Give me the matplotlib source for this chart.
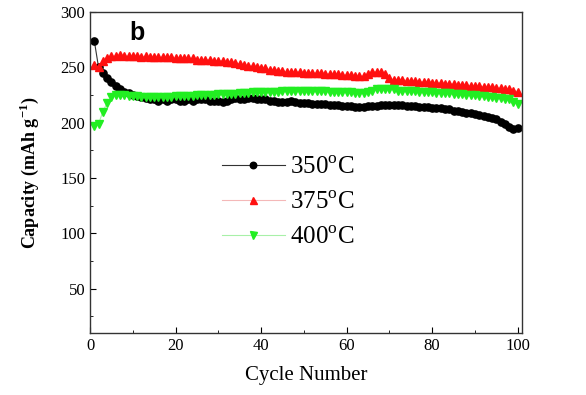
import matplotlib.pyplot as plt
from matplotlib.ticker import MultipleLocator

# Data
cycles = list(range(1, 101))

cap_350 = [274, 250, 245, 240, 237, 233, 230, 228, 227, 225,
           224, 223, 222, 221, 221, 220, 221, 220, 221, 221,
           220, 220, 221, 220, 221, 221, 221, 220, 220, 220,
           219, 220, 221, 222, 221, 221, 222, 222, 221, 221,
           221, 220, 220, 219, 219, 219, 220, 219, 218, 218,
           218, 217, 217, 217, 217, 216, 216, 216, 215, 215,
           215, 214, 214, 214, 215, 215, 215, 216, 216, 216,
           216, 216, 216, 215, 215, 215, 214, 214, 214, 213,
           213, 213, 212, 212, 211, 211, 210, 209, 209, 208,
           207, 206, 205, 204, 203, 201, 199, 196, 194, 195]

cap_375 = [252, 250, 256, 258, 260, 260, 261, 260, 260, 260,
           260, 259, 260, 259, 259, 259, 259, 259, 259, 258,
           258, 258, 258, 258, 257, 257, 257, 257, 256, 256,
           256, 255, 255, 254, 253, 252, 251, 251, 250, 249,
           249, 248, 248, 247, 247, 246, 246, 246, 246, 245,
           245, 245, 245, 245, 244, 244, 244, 244, 243, 243,
           243, 242, 242, 242, 244, 246, 246, 246, 244, 240,
           239, 239, 239, 238, 238, 238, 237, 237, 237, 236,
           236, 236, 235, 235, 235, 234, 234, 234, 233, 233,
           233, 232, 232, 232, 231, 231, 230, 230, 229, 228]

cap_400 = [197, 199, 210, 218, 223, 225, 225, 225, 224, 224,
           224, 223, 223, 223, 223, 223, 223, 223, 223, 224,
           224, 224, 224, 224, 225, 225, 225, 225, 225, 226,
           226, 226, 226, 226, 227, 227, 227, 228, 228, 228,
           228, 228, 228, 228, 229, 229, 229, 229, 229, 229,
           229, 229, 229, 229, 229, 228, 228, 228, 228, 228,
           228, 227, 227, 227, 228, 229, 230, 230, 230, 230,
           230, 229, 229, 229, 229, 229, 228, 228, 228, 228,
           227, 227, 227, 227, 226, 226, 226, 225, 225, 225,
           224, 224, 223, 223, 222, 222, 221, 221, 219, 217]

plt.rcParams['font.family'] = ['Liberation Serif', 'DejaVu Serif']
plt.rcParams['mathtext.fontset'] = 'custom'
plt.rcParams['mathtext.rm'] = 'Liberation Serif'
plt.rcParams['mathtext.bf'] = 'Liberation Serif:bold'

fig = plt.figure(figsize=(5.86, 3.95), dpi=100)
ax = fig.add_axes([0.1536, 0.157, 0.7372, 0.8126])

ax.plot(cycles, cap_350, color='#333333', lw=0.8, marker='o', ms=5.2,
        mfc='black', mec='black', label='350$^{\\rm o}$C')
ax.plot(cycles, cap_375, color='#f4b8b8', lw=0.8, marker='^', ms=5.6,
        mfc='#ff1010', mec='#ff1010', label='375$^{\\rm o}$C')
ax.plot(cycles, cap_400, color='#a8f0a8', lw=0.8, marker='v', ms=5.6,
        mfc='#22ee22', mec='#22ee22', label='400$^{\\rm o}$C')

ax.set_xlim(0, 101)
ax.set_ylim(10, 300)
ax.xaxis.set_major_locator(MultipleLocator(20))
ax.xaxis.set_minor_locator(MultipleLocator(10))
ax.yaxis.set_major_locator(MultipleLocator(50))
ax.yaxis.set_minor_locator(MultipleLocator(25))
ax.tick_params(which='both', direction='in', labelsize=12)
ax.tick_params(which='major', length=4)
ax.tick_params(which='minor', length=2.5)
for s in ax.spines.values():
    s.set_color('#333333')
    s.set_linewidth(1.0)

ax.set_xlabel('Cycle Number', fontsize=15, labelpad=9)
ax.set_ylabel('Capacity (mAh g$^{\\mathbf{-1}}$)', fontsize=13, fontweight='bold', labelpad=14)

ax.text(0.09, 0.935, 'b', transform=ax.transAxes, fontsize=18,
        fontweight='bold', family='Liberation Sans', va='center')

ax.legend(loc='upper left', bbox_to_anchor=(0.306, 0.55), frameon=False,
          fontsize=18, handlelength=2.5, handletextpad=0.2, labelspacing=0.5,
          markerscale=0.9, borderaxespad=0, borderpad=0)

fig.savefig('out.png', dpi=100)
